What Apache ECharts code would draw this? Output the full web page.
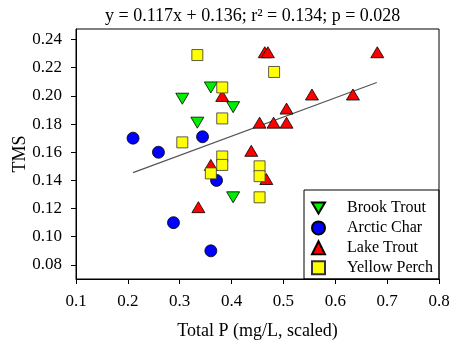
<!DOCTYPE html>
<html>
<head>
<meta charset="utf-8">
<script src="https://cdn.jsdelivr.net/npm/echarts@6/dist/echarts.min.js"></script>
<style>
  html, body { margin: 0; padding: 0; background: #fff; }
  #chart { width: 459px; height: 345px; }
</style>
</head>
<body>
<div id="chart"></div>
<script>
// data
var brookTrout = [[0.305, 0.198], [0.36, 0.206], [0.403, 0.192], [0.334, 0.181], [0.403, 0.128]];
var arcticChar = [[0.21, 0.170], [0.259, 0.160], [0.344, 0.171], [0.371, 0.140], [0.288, 0.110], [0.36, 0.090]];
var lakeTrout = [[0.336, 0.121], [0.36, 0.151], [0.382, 0.200], [0.438, 0.161], [0.454, 0.181],
    [0.464, 0.231], [0.47, 0.231], [0.467, 0.141], [0.481, 0.181], [0.506, 0.191],
    [0.506, 0.181], [0.555, 0.201], [0.634, 0.201], [0.681, 0.231]];
var yellowPerch = [[0.334, 0.229], [0.382, 0.206], [0.382, 0.184], [0.305, 0.167], [0.382, 0.157],
    [0.382, 0.151], [0.36, 0.145], [0.482, 0.217], [0.454, 0.150], [0.454, 0.143], [0.454, 0.128]];
var fitLine = [[0.21, 0.1455], [0.68, 0.2095]];
var yTicks = [0.08, 0.10, 0.12, 0.14, 0.16, 0.18, 0.20, 0.22, 0.24];

var font = '"Liberation Serif", "Times New Roman", serif';
// downward triangle (brook trout)
var downTri = 'path://M0,0 L20,0 L10,17 Z';

var chart = echarts.init(document.getElementById('chart'));
chart.setOption({
    animation: false,
    textStyle: {fontFamily: font},
    title: {
        text: 'y = 0.117x + 0.136; r² = 0.134; p = 0.028',
        left: 100,
        top: 2,
        textStyle: {fontFamily: font, fontSize: 18, fontWeight: 'normal', color: '#000'}
    },
    grid: {
        left: 76, right: 20, top: 29, bottom: 66,
        outerBoundsMode: 'none',
        containLabel: false,
        show: true, borderColor: '#000', borderWidth: 1
    },
    legend: {
        orient: 'vertical',
        left: 311,
        top: 200,
        itemWidth: 13,
        itemHeight: 13,
        itemGap: 3.9,
        padding: 0,
        textStyle: {fontFamily: font, fontSize: 16, color: '#000', padding: [0, 0, 0, 17]},
        data: ['Brook Trout', 'Arctic Char', 'Lake Trout', 'Yellow Perch']
    },
    graphic: [{
        type: 'rect',
        shape: {x: 304, y: 190, width: 135, height: 89},
        style: {fill: 'none', stroke: '#000', lineWidth: 1},
        z: 100
    }],
    xAxis: {
        type: 'value',
        min: 0.1, max: 0.8, interval: 0.1,
        name: 'Total P (mg/L, scaled)',
        nameLocation: 'middle',
        nameGap: 43,
        nameMoveOverlap: false,
        nameTextStyle: {fontFamily: font, fontSize: 18, color: '#000'},
        axisLine: {lineStyle: {color: '#000', width: 1}},
        axisTick: {length: 5, lineStyle: {color: '#000'}},
        axisLabel: {fontFamily: font, fontSize: 17, color: '#000', margin: 14,
            formatter: function (v) { return v.toFixed(1); }},
        splitLine: {show: false}
    },
    yAxis: {
        type: 'value',
        min: 0.07, max: 0.2475,
        name: 'TMS',
        nameLocation: 'middle',
        nameGap: 47,
        nameMoveOverlap: false,
        nameTextStyle: {fontFamily: font, fontSize: 18, color: '#000'},
        axisLine: {show: true, lineStyle: {color: '#000', width: 1}},
        axisTick: {length: 5, lineStyle: {color: '#000'}, customValues: yTicks},
        axisLabel: {fontFamily: font, fontSize: 17, color: '#000', margin: 14,
            customValues: yTicks,
            formatter: function (v) { return v.toFixed(2); }},
        splitLine: {show: false}
    },
    series: [
        {
            type: 'line',
            data: fitLine,
            showSymbol: false,
            symbol: 'none',
            lineStyle: {color: '#555', width: 1.2},
            z: 1,
            silent: true
        },
        {
            name: 'Brook Trout',
            type: 'scatter',
            data: brookTrout,
            symbol: downTri,
            symbolSize: [13, 11],
            itemStyle: {color: '#00ee00', borderColor: '#000', borderWidth: 0.8, opacity: 1},
            z: 2
        },
        {
            name: 'Arctic Char',
            type: 'scatter',
            data: arcticChar,
            symbol: 'circle',
            symbolSize: 12,
            itemStyle: {color: '#0000ff', borderColor: '#000', borderWidth: 0.8, opacity: 1},
            z: 3
        },
        {
            name: 'Lake Trout',
            type: 'scatter',
            data: lakeTrout,
            symbol: 'triangle',
            symbolSize: [13, 11],
            itemStyle: {color: '#ff0000', borderColor: '#000', borderWidth: 0.8, opacity: 1},
            z: 4
        },
        {
            name: 'Yellow Perch',
            type: 'scatter',
            data: yellowPerch,
            symbol: 'rect',
            symbolSize: 11,
            itemStyle: {color: '#ffff00', borderColor: '#333', borderWidth: 0.8, opacity: 1},
            z: 5
        }
    ]
});
</script>
</body>
</html>
